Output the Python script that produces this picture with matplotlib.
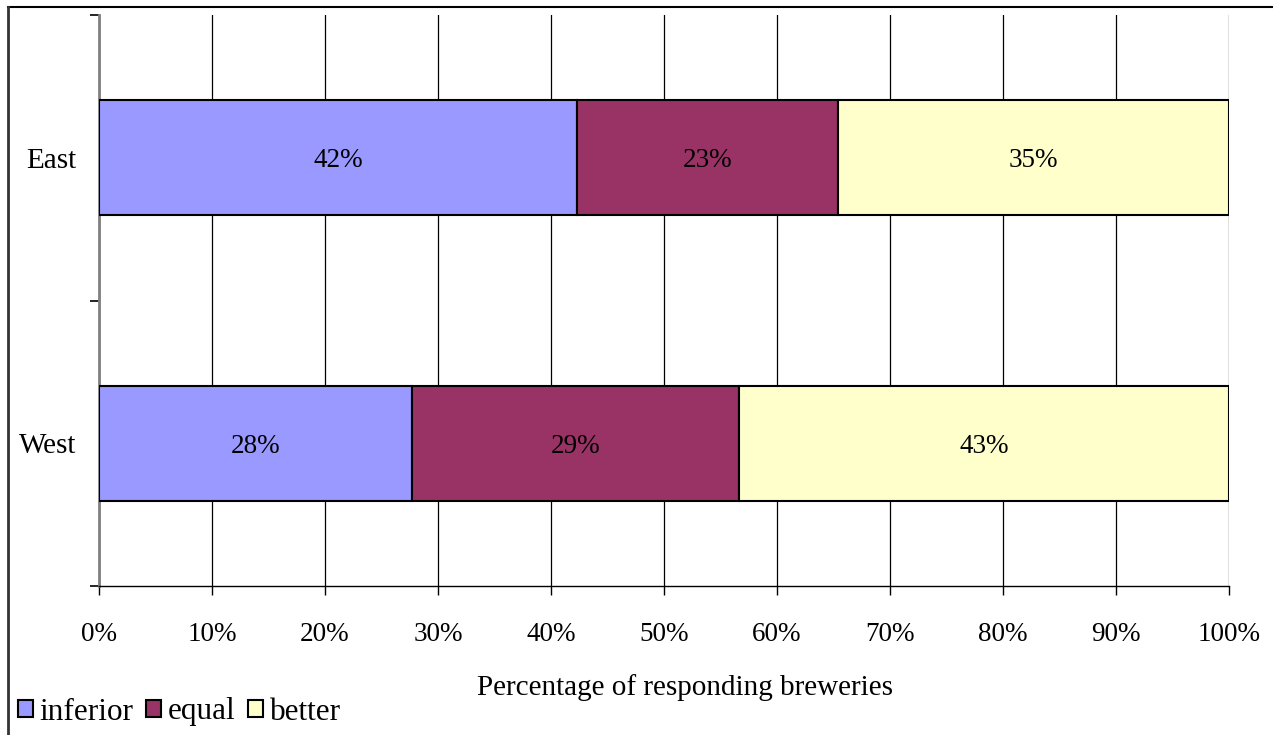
import matplotlib
matplotlib.use("Agg")
import matplotlib.pyplot as plt
from matplotlib.lines import Line2D
from matplotlib.patches import Patch

categories = ["West", "East"]
series_names = ["inferior", "equal", "better"]
inferior = [27.7, 42.3]
equal = [28.9, 23.1]
better = [43.4, 34.6]
colors = ["#9999FF", "#993366", "#FFFFCC"]
xticks = list(range(0, 101, 10))

plt.rcParams["font.family"] = ["Liberation Serif", "DejaVu Serif"]
FS = 19.5

fig = plt.figure(figsize=(12.73, 7.35), dpi=100)
ax = fig.add_axes([99/1273, 1-586/735, (1229-99)/1273, (586-15)/735])

ypos = [0.5, 1.5]
left = [0, 0]
for name, vals, c in zip(series_names, [inferior, equal, better], colors):
    ax.barh(ypos, vals, left=left, height=0.404, color=c,
            edgecolor="black", linewidth=1.5, zorder=3, label=name)
    for y, l, v in zip(ypos, left, vals):
        ax.text(l + v/2, y, f"{v:.0f}%", ha="center", va="center_baseline",
                fontsize=FS, zorder=4)
    left = [l + v for l, v in zip(left, vals)]

ax.set_xlim(0, 100)
ax.set_ylim(0, 2)
ax.set_xticks(xticks)
ax.set_xticklabels([f"{t}%" for t in xticks], fontsize=FS)
ax.set_yticks([0, 1, 2])
ax.set_yticklabels([])
ax.set_yticks(ypos, minor=True)
ax.set_yticklabels(categories, minor=True, fontsize=21)
for lbl in ax.get_yticklabels(minor=True):
    lbl.set_verticalalignment("center_baseline")
ax.tick_params(axis="y", which="minor", length=0, pad=16)
ax.tick_params(axis="y", which="major", length=6.5, width=1.2, color="black")
ax.tick_params(axis="x", length=6.5, width=1.0, pad=19.5)
ax.xaxis.grid(True, color="black", linewidth=0.9, zorder=0)
ax.set_axisbelow(True)
for s in ["top", "right"]:
    ax.spines[s].set_visible(False)
ax.spines["left"].set_color("#808080")
ax.spines["left"].set_linewidth(2)
ax.spines["bottom"].set_color("black")
ax.spines["bottom"].set_linewidth(1.0)

fig.text(685/1273, 1-688/735, "Percentage of responding breweries",
         ha="center", va="center", fontsize=21)

handles = [Patch(facecolor=c, edgecolor="black", linewidth=1.5) for c in colors]
fig.legend(handles, series_names, loc="center left",
           bbox_to_anchor=(15/1273, 1-712/735), ncol=3, frameon=False,
           fontsize=22.5, handlelength=0.47, handleheight=0.47,
           handletextpad=0.22, columnspacing=0.4, borderaxespad=0.0,
           borderpad=0.1)

# figure border (top and left)
fig.add_artist(Line2D([8/1273, 1], [1-7/735, 1-7/735], color="black",
                      linewidth=1.5, transform=fig.transFigure))
fig.add_artist(Line2D([8/1273, 8/1273], [0, 1-7/735], color="#333333",
                      linewidth=2, transform=fig.transFigure))

fig.savefig("out.png", dpi=100)
